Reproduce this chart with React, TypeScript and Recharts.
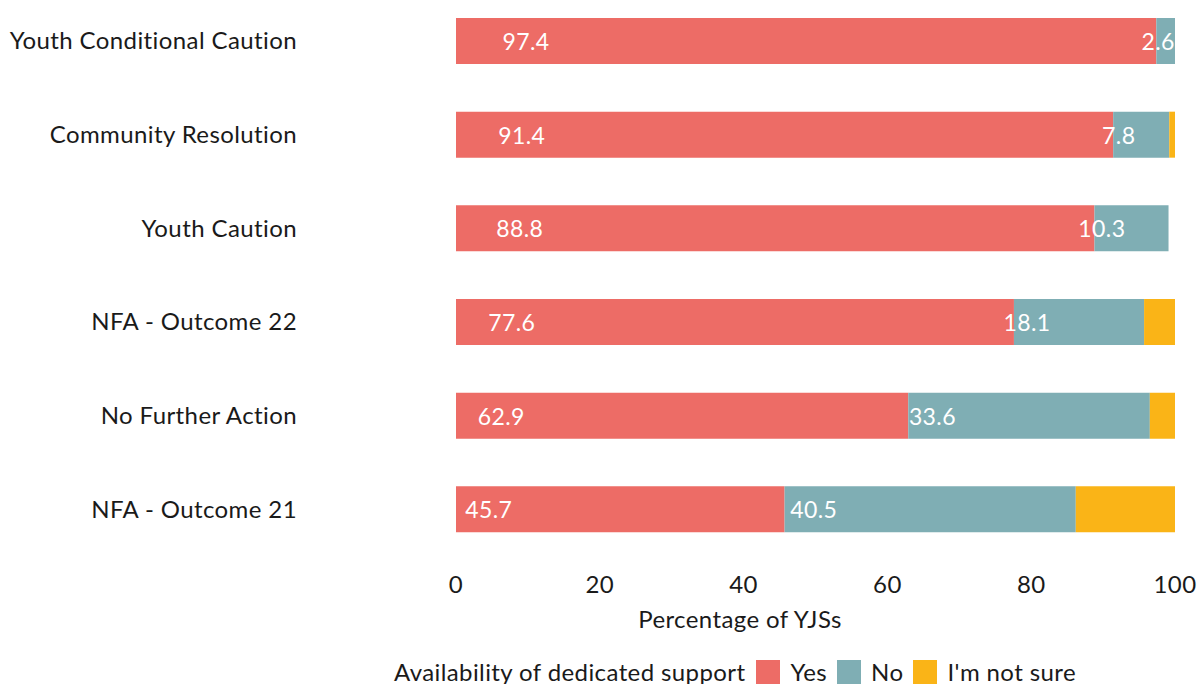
import React from 'react';
import { BarChart, Bar, XAxis, YAxis, LabelList } from 'recharts';

const categories = [
  'Youth Conditional Caution',
  'Community Resolution',
  'Youth Caution',
  'NFA - Outcome 22',
  'No Further Action',
  'NFA - Outcome 21',
];
const yesValues = [97.4, 91.4, 88.8, 77.6, 62.9, 45.7];
const noValues = [2.6, 7.8, 10.3, 18.1, 33.6, 40.5];
const notSureValues = [0, 0.8, 0, 4.3, 3.5, 13.8];
const xTicks = [0, 20, 40, 60, 80, 100];

const FONT = 'Lato, "Open Sans", sans-serif';
const FONT_SIZE = 24;
const SPACING = 0.4;
const TEXT = '#1a1a1a';

const series = [
  { key: 'yes', name: 'Yes', color: '#ED6C66', labelled: true },
  { key: 'no', name: 'No', color: '#7FAEB4', labelled: true },
  { key: 'notSure', name: "I'm not sure", color: '#FAB417', labelled: false },
];

const data = categories.map((name, i) => ({
  name,
  yes: yesValues[i],
  no: noValues[i],
  notSure: notSureValues[i],
}));

const tickStyle = { fill: TEXT, fontSize: FONT_SIZE, fontFamily: FONT, letterSpacing: SPACING };

// value label sits 10% of the way into its segment, like position_stack(vjust = 0.1)
const SegmentLabel = (props: any) => {
  const { x, y, width, height, value } = props;
  if (!value) return null;
  return (
    <text
      x={x + width * 0.1}
      y={y + height / 2}
      textAnchor="middle"
      dominantBaseline="central"
      fill="#ffffff"
      fontSize={23}
      fontFamily={FONT}
      letterSpacing={SPACING}
    >
      {value.toFixed(1)}
    </text>
  );
};

const AxisTitle = (props: any) => {
  const { viewBox } = props;
  return (
    <text
      x={740}
      y={viewBox.y + 72}
      textAnchor="middle"
      fill={TEXT}
      fontSize={FONT_SIZE}
      fontFamily={FONT}
      letterSpacing={SPACING}
    >
      Percentage of YJSs
    </text>
  );
};

const LegendRow = () => (
  <div
    style={{
      position: 'absolute',
      top: 657,
      left: 0,
      width: 1480,
      display: 'flex',
      justifyContent: 'center',
      alignItems: 'center',
      fontFamily: FONT,
      fontSize: FONT_SIZE,
      letterSpacing: SPACING,
      color: TEXT,
      whiteSpace: 'nowrap',
    }}
  >
    <span style={{ marginRight: 11 }}>Availability of dedicated support</span>
    {series.map((s) => (
      <span key={s.key} style={{ display: 'flex', alignItems: 'center', marginRight: 10 }}>
        <span style={{ width: 24, height: 24, background: s.color, marginRight: 10, display: 'inline-block' }} />
        {s.name}
      </span>
    ))}
  </div>
);

export default function App() {
  return (
    <div style={{ position: 'absolute', left: 0, top: 0, width: 1198, height: 684, overflow: 'hidden', background: '#fff' }}>
      <div style={{ position: 'absolute', left: 0, top: -6 }}>
        <BarChart
          width={1198}
          height={690}
          data={data}
          layout="vertical"
          margin={{ top: 0, right: 23, left: 0, bottom: 68 }}
        >
          <XAxis
            type="number"
            domain={[0, 100]}
            ticks={xTicks}
            axisLine={false}
            tickLine={false}
            tickSize={0}
            tickMargin={20}
            height={60}
            tick={tickStyle}
            label={<AxisTitle />}
          />
          <YAxis
            type="category"
            dataKey="name"
            width={456}
            axisLine={false}
            tickLine={false}
            tickSize={0}
            tickMargin={159}
            interval={0}
            tick={tickStyle}
          />
          {series.map((s) => (
            <Bar key={s.key} dataKey={s.key} name={s.name} stackId="a" fill={s.color} barSize={46} isAnimationActive={false}>
              {s.labelled && <LabelList dataKey={s.key} content={<SegmentLabel />} />}
            </Bar>
          ))}
        </BarChart>
      </div>
      <LegendRow />
    </div>
  );
}
